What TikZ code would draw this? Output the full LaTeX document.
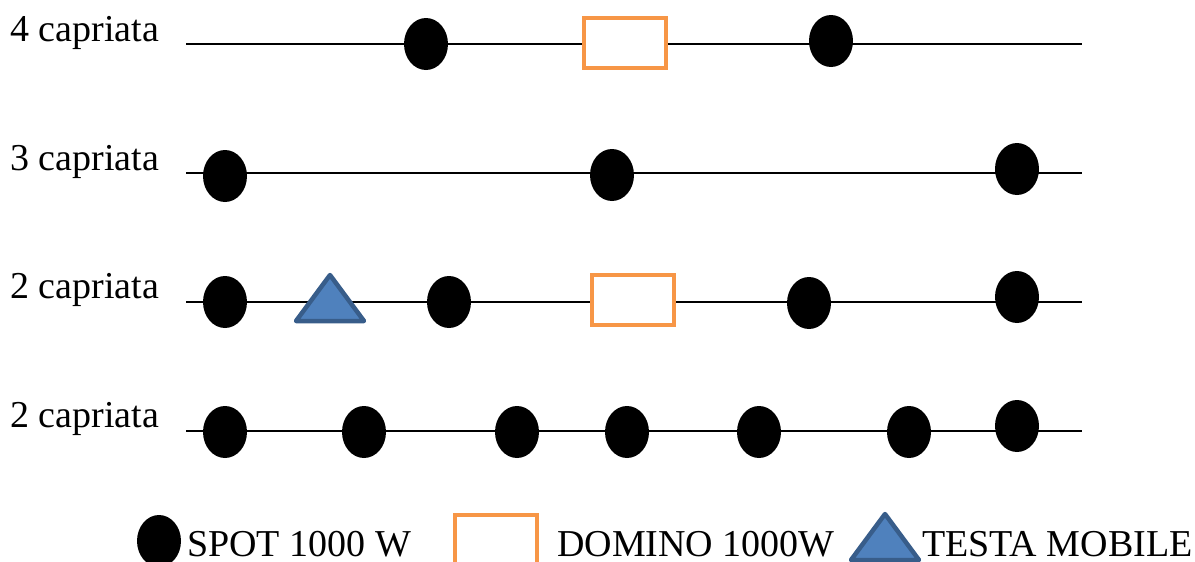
\documentclass[tikz,border=0pt]{standalone}
\usepackage{fontspec}
\setmainfont{Liberation Serif}
\usetikzlibrary{shapes.geometric}
\definecolor{dominoline}{HTML}{F79646}
\definecolor{testafill}{HTML}{4F81BD}
\definecolor{testaline}{HTML}{385D8A}
\newcommand*{\lft}{186}
\newcommand*{\rgt}{1082}
\newcommand*{\testa}[1]{\draw [testa] (#1) ++(-34,23) -- ++(34,-46) -- ++(34,46) -- cycle;}

\begin{document}
\begin{tikzpicture}[x=1pt, y=-1pt, font=\fontsize{38}{42}\selectfont,
    spot/.style   = {ellipse, fill=black, inner sep=0pt, minimum width=44pt, minimum height=52pt},
    domino/.style = {rectangle, draw=dominoline, fill=white, line width=4.5pt, inner sep=0pt, minimum width=82pt, minimum height=50pt},
    testa/.style  = {draw=testaline, fill=testafill, line width=4.5pt, line join=round},
    trave/.style  = {draw=black, line width=2pt},
    label/.style  = {anchor=base west, inner sep=0pt}]
    \useasboundingbox (0,0) rectangle (1195,562);
    \clip (0,0) rectangle (1195,562);
        % labels
        \node [label] (c4) at (10, 41) {4 capriata};
        \node [label] (c3) at (10,170) {3 capriata};
        \node [label] (c2) at (10,298) {2 capriata};
        \node [label] (c1) at (10,427) {2 capriata};
        % beams
        \coordinate (a4) at (\lft, 44); \coordinate (b4) at (\rgt, 44);
        \coordinate (a3) at (\lft,173); \coordinate (b3) at (\rgt,173);
        \coordinate (a2) at (\lft,302); \coordinate (b2) at (\rgt,302);
        \coordinate (a1) at (\lft,431); \coordinate (b1) at (\rgt,431);
        \draw [trave] (a4) -- (b4);
        \draw [trave] (a3) -- (b3);
        \draw [trave] (a2) -- (b2);
        \draw [trave] (a1) -- (b1);
        % 4 capriata
        \node [spot]   (s41) at ( 426, 44) {};
        \node [domino] (d41) at ( 625, 43) {};
        \node [spot]   (s42) at ( 831, 41) {};
        % 3 capriata
        \node [spot]   (s31) at ( 225,176) {};
        \node [spot]   (s32) at ( 612,175) {};
        \node [spot]   (s33) at (1017,169) {};
        % 2 capriata
        \node [spot]   (s21) at ( 225,302) {};
        \coordinate    (t21) at ( 330,298);
        \testa{t21}
        \node [spot]   (s22) at ( 449,302) {};
        \node [domino] (d21) at ( 633,300) {};
        \node [spot]   (s23) at ( 809,303) {};
        \node [spot]   (s24) at (1017,297) {};
        % 2 capriata (bottom)
        \foreach \x/\y [count=\i] in {225/432, 364/432, 517/432, 627/432, 759/432, 909/432, 1017/426}
            \node [spot] (s1\i) at (\x,\y) {};
        % legend
        \node [spot]   (ls) at ( 159,541) {};
        \node [label]  (lst) at ( 187,556) {SPOT 1000 W};
        \node [domino] (ld) at ( 496,540) {};
        \node [label]  (ldt) at ( 557,556) {DOMINO 1000W};
        \coordinate    (lt) at ( 885,537);
        \testa{lt}
        \node [label]  (ltt) at ( 922,556) {TESTA MOBILE};
    \end{tikzpicture}
\end{document}
